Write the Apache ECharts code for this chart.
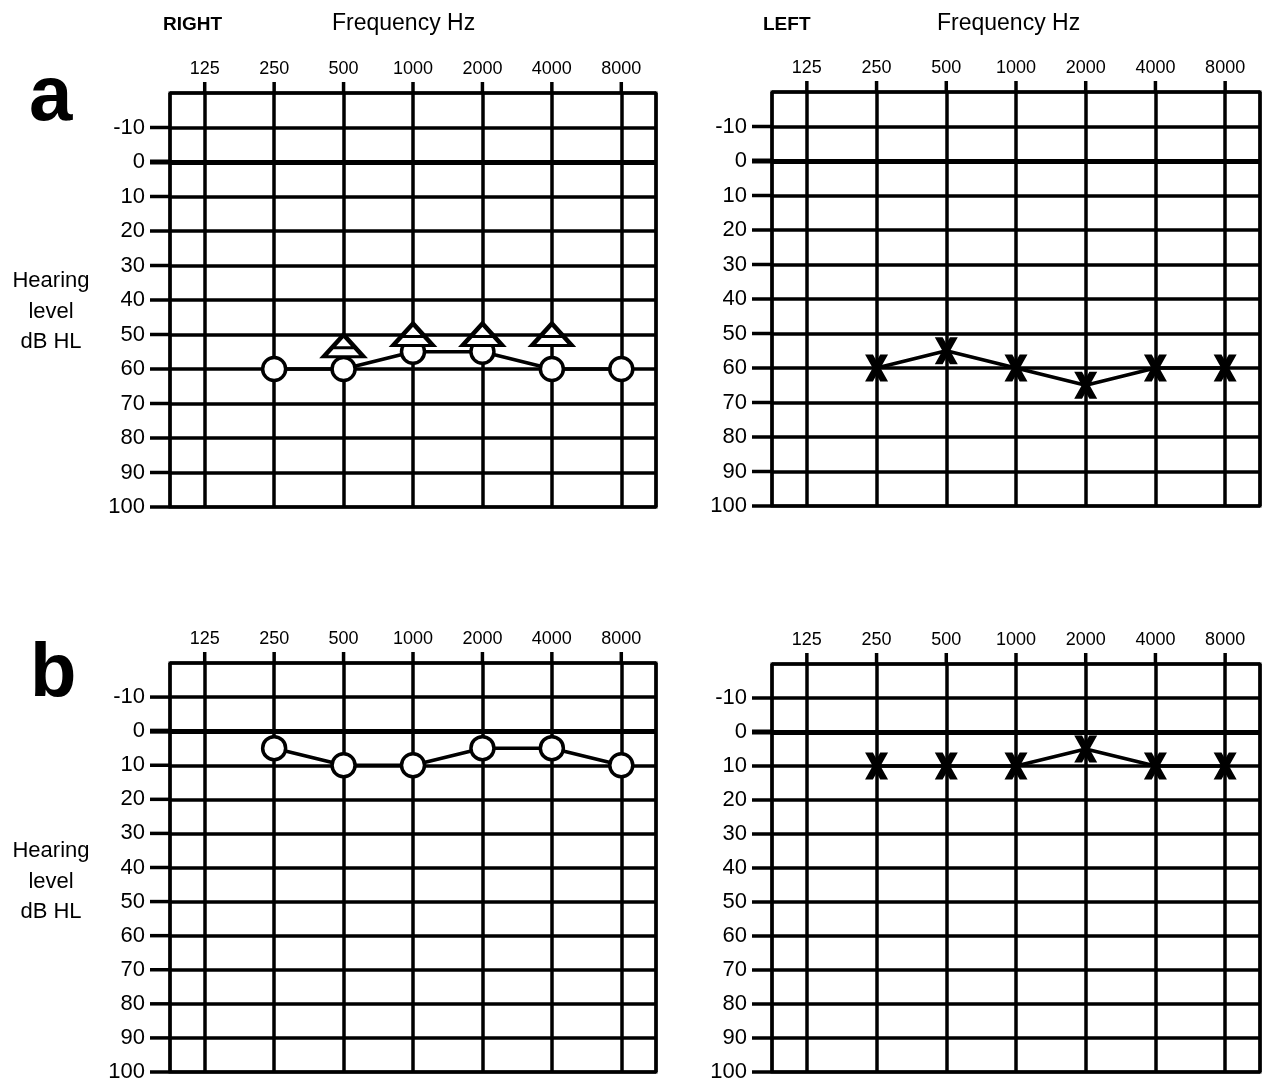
<!DOCTYPE html>
<html>
<head>
<meta charset="utf-8">
<script src="https://cdn.jsdelivr.net/npm/echarts@6/dist/echarts.min.js"></script>
<style>
  html, body { margin: 0; padding: 0; background: #fff; }
  #main { width: 1263px; height: 1083px; }
</style>
</head>
<body>
<div id="main"></div>
<script>
  // audiogram frequencies (Hz) and hearing level ticks (dB HL)
  var freqs = [125, 250, 500, 1000, 2000, 4000, 8000];
  var dbTicks = [-10, 0, 10, 20, 30, 40, 50, 60, 70, 80, 90, 100];
  var testFreqs = [250, 500, 1000, 2000, 4000, 8000];

  // panel a
  var rightA = [60, 60, 55, 55, 60, 60];
  var boneFreqsA = [500, 1000, 2000, 4000];
  var boneA = [55, 50, 50, 50];
  var leftA = [60, 55, 60, 65, 60, 60];

  // panel b
  var rightB = [5, 10, 10, 5, 5, 10];
  var leftB = [10, 10, 10, 5, 10, 10];

  var FONT = '"Liberation Sans", Arial, Helvetica, sans-serif';
  var octave = function (f) { return Math.log2(f / 125); };
  var tickPos = freqs.map(octave);

  function pairs(fs, vals) {
    return fs.map(function (f, i) { return [octave(f), vals[i]]; });
  }

  var panels = [
    { left: 170, top: 93, width: 486, height: 414 },
    { left: 772, top: 92, width: 488, height: 414 },
    { left: 170, top: 663, width: 486, height: 414 },
    { left: 772, top: 664, width: 488, height: 414 }
  ];

  var circleSym = {
    symbol: 'circle', symbolSize: 23,
    itemStyle: { color: '#fff', borderColor: '#000', borderWidth: 3.5 }
  };
  var crossSym = {
    symbol: 'path://M0,0 L7.5,0 L22,26 L14.5,26 Z M14.5,0 L22,0 L7.5,26 L0,26 Z',
    symbolSize: [23, 27],
    itemStyle: { color: '#000', borderWidth: 0 }
  };
  var triSym = 'path://M20,0 L40,22 L0,22 Z M8,13 L32,13';

  function lineSeries(idx, data, sym) {
    return {
      type: 'line', xAxisIndex: idx, yAxisIndex: idx, data: data,
      symbol: sym.symbol, symbolSize: sym.symbolSize, itemStyle: sym.itemStyle,
      lineStyle: { color: '#000', width: 3.5 }, z: 5,
      markLine: {
        silent: true, symbol: 'none', label: { show: false },
        lineStyle: { color: '#000', width: 5, type: 'solid' },
        data: [{ yAxis: 0 }], z: 3
      }
    };
  }

  // short stubs outside the frame: dB lines run left, frequency lines run up
  function stubSeries(idx) {
    return [{
      type: 'custom', xAxisIndex: idx, yAxisIndex: idx, silent: true, clip: false, z: 4,
      data: dbTicks.map(function (v) { return [-0.5, v]; }),
      renderItem: function (params, api) {
        var p = api.coord([api.value(0), api.value(1)]);
        return {
          type: 'line', shape: { x1: p[0] - 20, y1: p[1], x2: p[0], y2: p[1] },
          style: { stroke: '#000', lineWidth: api.value(1) === 0 ? 5 : 3.5 }
        };
      }
    }, {
      type: 'custom', xAxisIndex: idx, yAxisIndex: idx, silent: true, clip: false, z: 4,
      data: tickPos.map(function (x) { return [x, -20]; }),
      renderItem: function (params, api) {
        var p = api.coord([api.value(0), api.value(1)]);
        return {
          type: 'line', shape: { x1: p[0], y1: p[1] - 11, x2: p[0], y2: p[1] },
          style: { stroke: '#000', lineWidth: 3.5 }
        };
      }
    }];
  }

  var series = [
    lineSeries(0, pairs(testFreqs, rightA), circleSym),
    {
      type: 'scatter', xAxisIndex: 0, yAxisIndex: 0, z: 6,
      data: pairs(boneFreqsA, boneA).map(function (d, i) {
        return i === 0 ? { value: d, symbolOffset: [0, -6] } : { value: d };
      }),
      symbol: triSym, symbolSize: [40, 22],
      itemStyle: { color: '#fff', borderColor: '#000', borderWidth: 4, opacity: 1 }
    },
    lineSeries(1, pairs(testFreqs, leftA), crossSym),
    lineSeries(2, pairs(testFreqs, rightB), circleSym),
    lineSeries(3, pairs(testFreqs, leftB), crossSym)
  ];
  panels.forEach(function (p, i) { series = series.concat(stubSeries(i)); });

  var option = {
    animation: false,
    backgroundColor: '#fff',
    grid: panels.map(function (p) {
      return {
        left: p.left, top: p.top, width: p.width, height: p.height,
        show: true, borderColor: '#000', borderWidth: 3, backgroundColor: 'transparent'
      };
    }),
    xAxis: panels.map(function (p, i) {
      return {
        type: 'value', gridIndex: i, position: 'top', min: -0.5, max: 6.5, splitNumber: 7,
        axisLine: { show: false },
        axisTick: { show: false },
        axisLabel: {
          customValues: tickPos, margin: 15, color: '#000', fontSize: 18, fontFamily: FONT,
          formatter: function (v) { return String(freqs[Math.round(v)]); }
        },
        splitLine: { show: true, lineStyle: { color: '#000', width: 3.5 } }
      };
    }),
    yAxis: panels.map(function (p, i) {
      return {
        type: 'value', gridIndex: i, inverse: true, min: -20, max: 100, interval: 10,
        axisLine: { show: false },
        axisTick: { show: false },
        axisLabel: { customValues: dbTicks, margin: 25, color: '#000', fontSize: 22, fontFamily: FONT },
        splitLine: { show: true, lineStyle: { color: '#000', width: 3.5 } }
      };
    }),
    series: series,
    graphic: [
      { type: 'text', x: 29, y: 59, style: { text: 'a', font: 'bold 78px ' + FONT, fill: '#000' } },
      { type: 'text', x: 30, y: 637, style: { text: 'b', font: 'bold 76px ' + FONT, fill: '#000' } },
      { type: 'text', left: 163, top: 15, style: { text: 'RIGHT', font: 'bold 19px ' + FONT, fill: '#000' } },
      { type: 'text', left: 332, top: 12, style: { text: 'Frequency Hz', font: '23px ' + FONT, fill: '#000' } },
      { type: 'text', left: 763, top: 15, style: { text: 'LEFT', font: 'bold 19px ' + FONT, fill: '#000' } },
      { type: 'text', left: 937, top: 12, style: { text: 'Frequency Hz', font: '23px ' + FONT, fill: '#000' } },
      { type: 'text', x: 51, y: 266, style: { text: 'Hearing\nlevel\ndB HL', font: '22px ' + FONT, fill: '#000', align: 'center', lineHeight: 30.5 } },
      { type: 'text', x: 51, y: 836, style: { text: 'Hearing\nlevel\ndB HL', font: '22px ' + FONT, fill: '#000', align: 'center', lineHeight: 30.5 } }
    ]
  };

  var chart = echarts.init(document.getElementById('main'));
  chart.setOption(option);
</script>
</body>
</html>
